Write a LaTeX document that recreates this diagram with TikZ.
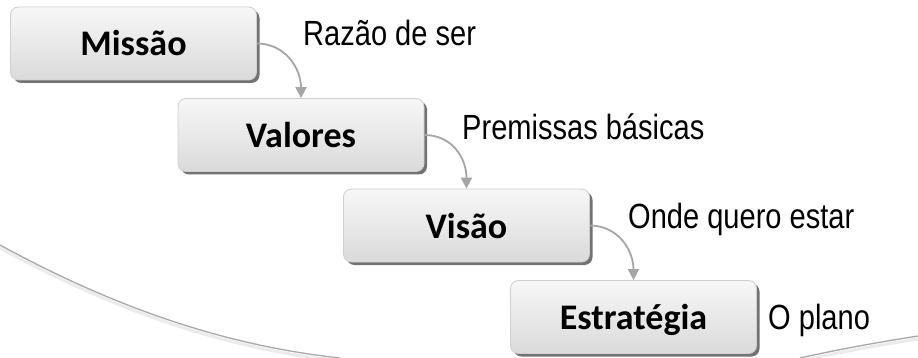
\documentclass[tikz,border=0pt]{standalone}
\usepackage{fontspec}
\setmainfont{Liberation Sans}
\newfontfamily\labelfont[FakeStretch=0.83]{Liberation Sans}
\newfontfamily\boxfont{Carlito}
\usetikzlibrary{shadows,arrows.meta}
\definecolor{conncol}{HTML}{A6A6A6}
\definecolor{swoosh}{HTML}{A8A8A8}
\definecolor{boxtop}{HTML}{F7F7F7}
\definecolor{boxbot}{HTML}{DADADA}
\definecolor{boxline}{HTML}{CFCFCF}
\tikzset{
  stepbox/.style={rectangle, rounded corners=8pt, draw=boxline, line width=0.8pt,
    top color=boxtop, bottom color=boxbot,
    minimum width=246pt, minimum height=73pt, inner sep=0pt,
    text height=25pt, text depth=0pt,
    font=\boxfont\bfseries\fontsize{36}{40}\selectfont,
    drop shadow={shadow xshift=3pt, shadow yshift=-3pt, fill=black!55, opacity=1}},
  steplabel/.style={anchor=base west, inner sep=0pt, font=\labelfont\fontsize{35}{40}\selectfont},
  conn/.style={draw=conncol, line width=1.8pt, -{Triangle[length=11pt,width=11pt]}},
  swooshline/.style={draw=swoosh, line width=1.3pt}
}
\begin{document}
\begin{tikzpicture}[x=1pt,y=-1pt]
\useasboundingbox[fill=white] (0,0) rectangle (918,358);
% background swooshes
\draw[draw=black!8, line width=3pt] (0,248) .. controls (110,308) and (220,348) .. (340,361);
\draw[swooshline] (0,245) .. controls (110,305) and (220,345) .. (340,358);
\draw[draw=black!8, line width=3pt] (800,361) .. controls (840,352) and (880,345) .. (918,339);
\draw[swooshline] (800,358) .. controls (840,349) and (880,342) .. (918,336);
% boxes
\node[stepbox] (m) at (133.5,43.5) {Missão};
\node[stepbox] (v) at (301,135) {Valores};
\node[stepbox] (s) at (466.5,225.5) {Visão};
\node[stepbox] (e) at (633.5,317) {Estratégia};
% labels
\node[steplabel] (lm) at (303,46) {Razão de ser};
\node[steplabel] (lv) at (462,140) {Premissas básicas};
\node[steplabel] (ls) at (628,229) {Onde quero estar};
\node[steplabel] (le) at (768,329) {O plano};
% connectors
\draw[conn] (m.east) .. controls +(28,0) and +(0,-30) .. (v.north);
\draw[conn] (v.east) .. controls +(28,0) and +(0,-30) .. (s.north);
\draw[conn] (s.east) .. controls +(28,0) and +(0,-30) .. (e.north);
\end{tikzpicture}
\end{document}
